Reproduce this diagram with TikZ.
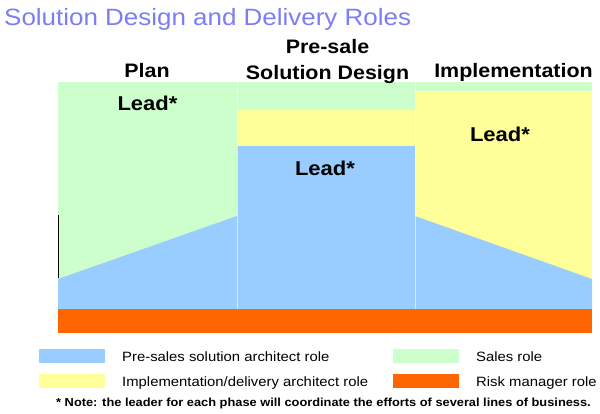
\documentclass[tikz,border=0pt]{standalone}
\usepackage{fontspec}
\setmainfont{Liberation Sans}[FakeStretch=1.1]
\definecolor{salesc}{HTML}{CCFFCC}
\definecolor{implc}{HTML}{FFFF99}
\definecolor{archc}{HTML}{99CCFF}
\definecolor{riskc}{HTML}{FF6600}
\definecolor{titlec}{RGB}{125,125,245}
\tikzset{
  titletext/.style={anchor=base west,inner sep=0pt,text=titlec,font=\fontsize{23.6}{26}\selectfont},
  headtext/.style={anchor=base,inner sep=0pt,font=\fontsize{19.5}{22}\selectfont\bfseries},
  leadtext/.style={anchor=base,inner sep=0pt,font=\fontsize{20}{22}\selectfont\bfseries},
  legtext/.style={anchor=base west,inner sep=0pt,font=\fontsize{13.5}{15}\selectfont},
  notetext/.style={anchor=base,inner sep=0pt,font=\fontsize{11.65}{13}\selectfont\bfseries},
  swatch/.style={minimum width=66pt,minimum height=14pt,inner sep=0pt,draw=none},
  sep/.style={white,line width=0.6pt,opacity=0.6}
}
\begin{document}
\begin{tikzpicture}[x=1pt,y=-1pt]
\useasboundingbox[fill=white] (0,0) rectangle (600,413);
% left column (Plan)
\fill[salesc] (58,82) rectangle (237,309);
\fill[archc] (58,279) -- (237,216) -- (237,309) -- (58,309) -- cycle;
% middle column (Pre-sale)
\fill[salesc] (237,82) rectangle (415,110);
\fill[implc] (237,110) rectangle (415,146);
\fill[archc] (237,146) rectangle (415,309);
% right column (Implementation)
\fill[salesc] (415,82) rectangle (592,91);
\fill[implc] (415,91) rectangle (592,309);
\fill[archc] (415,216) -- (592,279) -- (592,309) -- (415,309) -- cycle;
% separators
\draw[sep] (237,82) -- (237,309);
\draw[sep] (415,82) -- (415,309);
\draw[black,line width=0.8pt] (58.4,215) -- (58.4,278);
% risk bar
\fill[riskc] (58,309) rectangle (592,333);
% texts
\node[titletext] (title) at (4,25) {Solution Design and Delivery Roles};
\node[headtext] (hplan) at (147,77) {Plan};
\node[headtext] (hpre1) at (327.5,53.5) {Pre-sale};
\node[headtext] (hpre2) at (327.5,79) {Solution Design};
\node[headtext] (himpl) at (513.5,77) {Implementation};
\node[leadtext] (lplan) at (147.5,110.5) {Lead*};
\node[leadtext] (lpre) at (325,175.5) {Lead*};
\node[leadtext] (limpl) at (500,141) {Lead*};
% legend
\node[swatch,fill=archc] (sw1) at (72,356) {};
\node[swatch,fill=implc] (sw2) at (72,380.5) {};
\node[swatch,fill=salesc] (sw3) at (426,356) {};
\node[swatch,fill=riskc] (sw4) at (426,380.5) {};
\node[legtext] (lg1) at (122,361) {Pre-sales solution architect role};
\node[legtext] (lg2) at (122,386) {Implementation/delivery architect role};
\node[legtext] (lg3) at (476,361) {Sales role};
\node[legtext] (lg4) at (476,386) {Risk manager role};
\node[notetext] (note) at (323.5,406) {* Note: the leader for each phase will coordinate the efforts of several lines of business.};
\end{tikzpicture}
\end{document}
